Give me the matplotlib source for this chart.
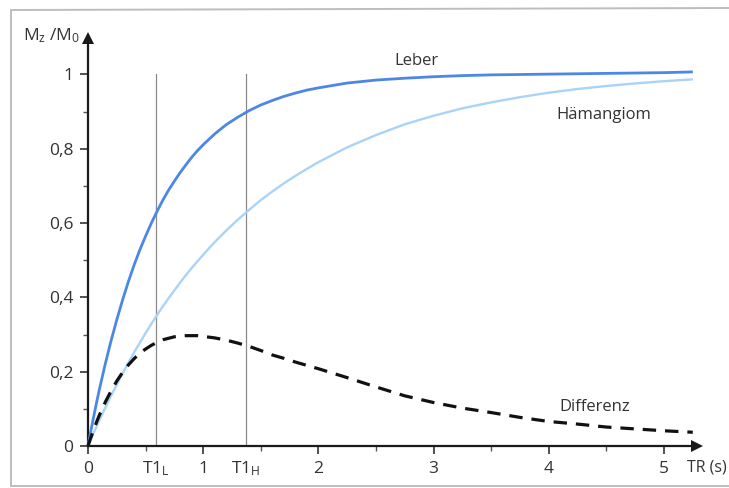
import matplotlib
matplotlib.use("Agg")
import matplotlib.pyplot as plt
from matplotlib.lines import Line2D

plt.rcParams['font.family'] = ['Open Sans', 'DejaVu Sans']
plt.rcParams['mathtext.fontset'] = 'custom'
plt.rcParams['mathtext.rm'] = 'Open Sans'
plt.rcParams['mathtext.it'] = 'Open Sans'

# ---- data ----
tr = [0, 0.025, 0.05, 0.075, 0.1, 0.15, 0.2, 0.25, 0.3, 0.35, 0.4, 0.45, 0.5,
      0.55, 0.6, 0.65, 0.7, 0.75, 0.8, 0.85, 0.9, 0.95, 1.0, 1.1, 1.2, 1.3,
      1.4, 1.5, 1.6, 1.7, 1.8, 1.9, 2.0, 2.25, 2.5, 2.75, 3.0, 3.25, 3.5,
      3.75, 4.0, 4.25, 4.5, 4.75, 5.0, 5.25]
leber = [0, 0.041, 0.08, 0.118, 0.154, 0.221, 0.283, 0.34, 0.393, 0.442,
         0.487, 0.528, 0.565, 0.6, 0.632, 0.662, 0.689, 0.713, 0.736, 0.757,
         0.777, 0.795, 0.811, 0.84, 0.865, 0.885, 0.903, 0.918, 0.930, 0.941,
         0.950, 0.958, 0.964, 0.977, 0.985, 0.990, 0.994, 0.997, 0.999, 1.000,
         1.001, 1.002, 1.003, 1.004, 1.005, 1.007]
haemangiom = [0, 0.018, 0.036, 0.053, 0.07, 0.103, 0.135, 0.165, 0.195, 0.224,
              0.252, 0.278, 0.304, 0.329, 0.353, 0.376, 0.398, 0.419, 0.44,
              0.46, 0.479, 0.497, 0.515, 0.549, 0.58, 0.609, 0.636, 0.662,
              0.685, 0.707, 0.727, 0.746, 0.764, 0.804, 0.837, 0.866, 0.889,
              0.909, 0.925, 0.939, 0.951, 0.961, 0.969, 0.976, 0.982, 0.987]
differenz = [0, 0.023, 0.044, 0.065, 0.084, 0.118, 0.148, 0.175, 0.198, 0.218,
             0.235, 0.25, 0.261, 0.271, 0.279, 0.286, 0.29, 0.294, 0.296,
             0.297, 0.297, 0.297, 0.295, 0.291, 0.285, 0.277, 0.268, 0.257,
             0.245, 0.236, 0.226, 0.217, 0.208, 0.184, 0.159, 0.135, 0.117,
             0.102, 0.090, 0.077, 0.066, 0.059, 0.051, 0.046, 0.041, 0.037]
t1_positions = [0.59, 1.37]
t1_labels = [r'T1$_\mathregular{L}$', r'T1$_\mathregular{H}$']
x_ticks = [0, 1, 2, 3, 4, 5]
x_ticklabels = ['0', '1', '2', '3', '4', '5']
y_ticks = [0, 0.2, 0.4, 0.6, 0.8, 1.0]
y_ticklabels = ['0', '0,2', '0,4', '0,6', '0,8', '1']

W, H = 729, 488
fig = plt.figure(figsize=(W / 100, H / 100), dpi=100)
fig.patch.set_facecolor('white')

x0, x_tip = 88, 697
y0, y_tip = 446, 38
ax = fig.add_axes([x0 / W, (H - y0) / H, (x_tip - x0) / W, (y0 - y_tip) / H])
ax.set_xlim(0, (x_tip - x0) / 115.2)
ax.set_ylim(0, (y0 - y_tip) / 371.5)
ax.patch.set_alpha(0)

txt = '#333333'

# vertical T1 lines
for p in t1_positions:
    ax.plot([p, p], [0, 1.0], color='#8a8a8a', lw=0.9, zorder=1)

ax.plot(tr, leber, color='#4d87e6', lw=2.0, clip_on=False, zorder=3,
        solid_capstyle='butt', solid_joinstyle='round')
ax.plot(tr, haemangiom, color='#a9d3f8', lw=1.7, clip_on=False, zorder=2,
        solid_capstyle='butt', solid_joinstyle='round')
ax.plot(tr, differenz, color='#111111', lw=2.3, dashes=(4.2, 2.8),
        clip_on=False, zorder=4)

# spines / arrows
for s in ['top', 'right']:
    ax.spines[s].set_visible(False)
for s in ['left', 'bottom']:
    ax.spines[s].set_linewidth(1.6)
    ax.spines[s].set_color('#1a1a1a')
ax.plot(1, 0, marker='>', color='#1a1a1a', ms=9, transform=ax.transAxes,
        clip_on=False, markeredgewidth=0)
ax.plot(0, 1, marker='^', color='#1a1a1a', ms=9, transform=ax.transAxes,
        clip_on=False, markeredgewidth=0)

ax.set_xticks(x_ticks)
ax.set_xticklabels(x_ticklabels)
ax.set_xticks([0.5, 1.5, 2.5, 3.5, 4.5], minor=True)
ax.set_yticks(y_ticks)
ax.set_yticklabels(y_ticklabels)
ax.set_yticks([0.1, 0.3, 0.5, 0.7, 0.9], minor=True)
ax.tick_params(axis='both', which='major', direction='out', length=5.5,
               width=1.2, color='#333333', labelsize=12.5, labelcolor=txt)
ax.tick_params(axis='both', which='minor', direction='out', length=3.5,
               width=1.0, color='#555555')
ax.tick_params(axis='x', which='major', pad=5)
ax.tick_params(axis='y', which='major', pad=5)

for p, lab in zip(t1_positions, t1_labels):
    ax.text(p, -0.035, lab, ha='center', va='top', fontsize=12.5, color=txt)

ax.text(2.85, 1.035, 'Leber', ha='center', va='center', fontsize=12, color=txt)
ax.text(4.48, 0.89, 'Hämangiom', ha='center', va='center', fontsize=12,
        color=txt)
ax.text(4.40, 0.105, 'Differenz', ha='center', va='center', fontsize=12,
        color=txt)
fig.text(727 / W, (H - 467) / H, 'TR (s)', ha='right', va='center',
         fontsize=11.5, color=txt)
fig.text(23 / W, (H - 40) / H, r'M$_\mathregular{z}$ /M$_\mathregular{0}$',
         ha='left', va='baseline', fontsize=12.5, color=txt)

# scan frame
fc = '#bdbdbd'
fig.add_artist(Line2D([11 / W, 11 / W], [1 - 11 / H, 1 - 486 / H], color=fc,
                      lw=1.4, transform=fig.transFigure))
fig.add_artist(Line2D([11 / W, 1.0], [1 - 10 / H, 1 - 8 / H], color=fc,
                      lw=1.4, transform=fig.transFigure))
fig.add_artist(Line2D([11 / W, 1.0], [1 - 486 / H, 1 - 486 / H], color=fc,
                      lw=1.4, transform=fig.transFigure))

fig.savefig('out.png', dpi=100, facecolor='white')
